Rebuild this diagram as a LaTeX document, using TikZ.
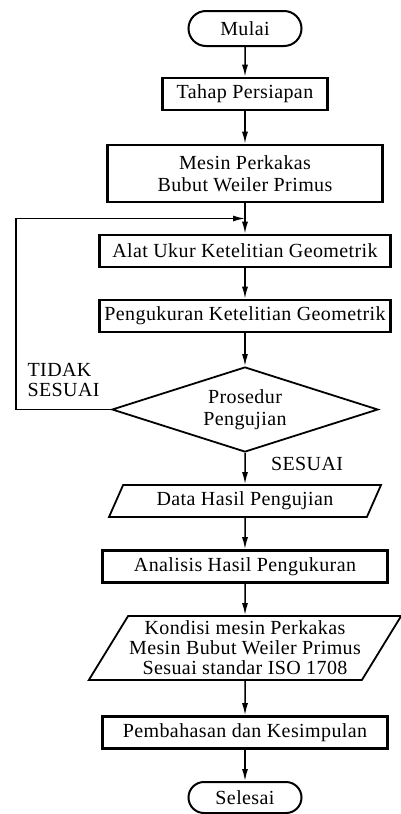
\documentclass[tikz,border=0pt]{standalone}
\usepackage{fontspec}
\setmainfont{Liberation Serif}[LetterSpace=2]
\usepackage{tikz}
\usetikzlibrary{%
  positioning
 ,arrows.meta
 ,calc
 ,shapes.geometric
 ,shapes.misc
}
\tikzstyle{alur}=[x=1pt,y=1pt,on grid,font=\fontsize{20}{20}\selectfont,>={Latex[length=12pt,width=6pt]}]
\tikzstyle{terminal}=[rounded rectangle,draw=black,line width=2pt,minimum width=117pt,minimum height=35pt,inner sep=2pt]
\tikzstyle{proses}=[rectangle,draw=black,line width=2.6pt,minimum height=32pt,align=center,inner sep=2pt]
\tikzstyle{io}=[trapezium,trapezium left angle=55,trapezium right angle=125,trapezium stretches body,draw=black,line width=1.8pt,align=center,inner sep=1pt]
\tikzstyle{cek}=[diamond,aspect=3.13,draw=black,line width=1.8pt,minimum width=266pt,minimum height=85pt,inner sep=0pt,align=center]
\tikzstyle{panah}=[->,line width=1.5pt]

\begin{document}
\begin{tikzpicture}[alur]
  \useasboundingbox (0,0) rectangle (401,-814);
  \node[terminal]                  (mulai) at (245,-28.5)                          {Mulai};
  \node[proses,minimum width=165pt] (tahap) [below of=mulai,node distance=65.5pt] {Tahap Persiapan};
  \node[proses,minimum width=275pt,minimum height=57pt] (mesin) [below of=tahap,node distance=79.5pt] {Mesin Perkakas\\[2pt]Bubut Weiler Primus};
  \node[proses,minimum width=291pt] (alat)  [below of=mesin,node distance=77.5pt] {Alat Ukur Ketelitian Geometrik};
  \node[proses,minimum width=291pt] (ukur)  [below of=alat,node distance=65pt]    {Pengukuran Ketelitian Geometrik};
  \node[cek]                        (uji)   [below of=ukur,node distance=93.5pt]  {Prosedur\\[2pt]Pengujian};
  \node[io,minimum width=272pt,minimum height=32pt] (data) [below of=uji,node distance=91.5pt] {Data Hasil Pengujian};
  \node[proses,minimum width=285pt] (analisis) [below of=data,node distance=65.5pt] {Analisis Hasil Pengukuran};
  \node[io,minimum width=298pt,minimum height=64pt] (kondisi) [below of=analisis,node distance=81.5pt] {Kondisi mesin Perkakas\\Mesin Bubut Weiler Primus\\Sesuai standar ISO 1708};
  \node[proses,minimum width=285pt] (bahas) [below of=kondisi,node distance=84.5pt] {Pembahasan dan Kesimpulan};
  \node[terminal,minimum height=31pt] (selesai) [below of=bahas,node distance=65pt] {Selesai};
%
  \coordinate (gabung) at ($(mesin.south)!.5!(alat.north)$);
  \path[panah]
  (mulai)    edge (tahap)
  (tahap)    edge (mesin)
  (mesin)    edge (alat)
  (alat)     edge (ukur)
  (ukur)     edge (uji)
  (uji)      edge node[anchor=west,xshift=22pt,pos=.35] (sesuai) {SESUAI} (data)
  (data)     edge (analisis)
  (analisis) edge (kondisi)
  (kondisi)  edge (bahas)
  (bahas)    edge (selesai);
  \draw[panah] (uji.west) -- node[above=9pt,align=left] (tidak) {TIDAK\\SESUAI} ++(-95,0) |- (gabung);
\end{tikzpicture}
\end{document}
